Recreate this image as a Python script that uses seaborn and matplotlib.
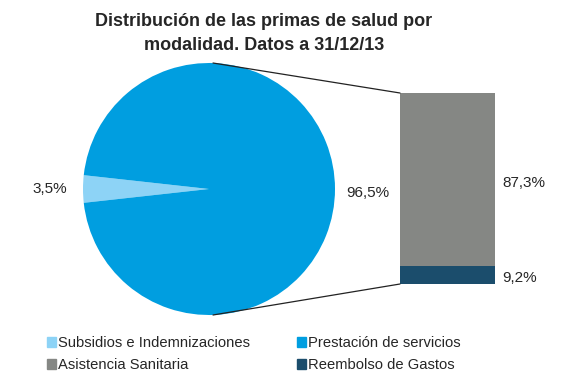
import matplotlib
matplotlib.use("Agg")
import matplotlib.pyplot as plt
import seaborn as sns
from matplotlib.patches import Patch, ConnectionPatch

sns.set_style("white")
plt.rcParams['font.family'] = ['Liberation Sans', 'DejaVu Sans']

# Pie data
pie_labels = ['Subsidios e Indemnizaciones', 'Prestación de servicios']
pie_values = [3.5, 96.5]
pie_colors = ['#8dd3f6', '#009ee0']

# Bar breakdown of "Prestación de servicios"
bar_labels = ['Reembolso de Gastos', 'Asistencia Sanitaria']
bar_values = [9.2, 87.3]
bar_colors = ['#1b4d6c', '#858784']

W, H = 567, 378
fig = plt.figure(figsize=(W / 100, H / 100), dpi=100)

# Pie axes in pixel coordinates
ax = fig.add_axes([0, 0, 1, 1])
cx, cy, r = 209, 189, 126
start = 180 - pie_values[0] / 100 * 360 / 2
ax.pie(pie_values, colors=pie_colors, startangle=start, center=(cx, cy),
       radius=r, counterclock=True, frame=True,
       wedgeprops=dict(linewidth=0))
ax.set_xlim(0, W)
ax.set_ylim(H, 0)
ax.set_aspect('auto')
ax.axis('off')
ax.text(50, 189, '3,5%', ha='center', va='center', fontsize=11)
ax.text(368, 193, '96,5%', ha='center', va='center', fontsize=11)

# Bar axes
bx = fig.add_axes([400 / W, (H - 284) / H, 95 / W, 191 / H])
bottom = 0
for lab, val, col in zip(bar_labels, bar_values, bar_colors):
    bx.bar(0, val, bottom=bottom, width=1, color=col, linewidth=0)
    ypos = bottom + val / 2 - (2 if val > 20 else 1.5)
    bx.text(0.58, ypos, f'{val:.1f}%'.replace('.', ','), ha='left', va='center',
            fontsize=11)
    bottom += val
bx.set_xlim(-0.5, 0.5)
bx.set_ylim(0, sum(bar_values))
bx.axis('off')

# Connector lines
for y_pie, y_bar in [(cy - r, sum(bar_values)), (cy + r, 0)]:
    con = ConnectionPatch(xyA=(cx + 4, y_pie), coordsA=ax.transData,
                          xyB=(-0.5, y_bar), coordsB=bx.transData,
                          color='#222222', linewidth=0.9)
    fig.add_artist(con)

fig.suptitle('Distribución de las primas de salud por\nmodalidad. Datos a 31/12/13',
             fontsize=13, fontweight='bold', y=0.965, x=0.465, linespacing=1.5)

handles = [Patch(color=pie_colors[0], label=pie_labels[0]),
           Patch(color=bar_colors[1], label=bar_labels[1]),
           Patch(color=pie_colors[1], label=pie_labels[1]),
           Patch(color=bar_colors[0], label=bar_labels[0])]
fig.legend(handles=handles, ncol=2, loc='lower left', bbox_to_anchor=(0.06, -0.02),
           frameon=False, fontsize=10.6, handlelength=0.6, handleheight=0.6,
           handletextpad=0.15, columnspacing=3.2, labelspacing=0.55)

fig.savefig('out.png', dpi=100)
